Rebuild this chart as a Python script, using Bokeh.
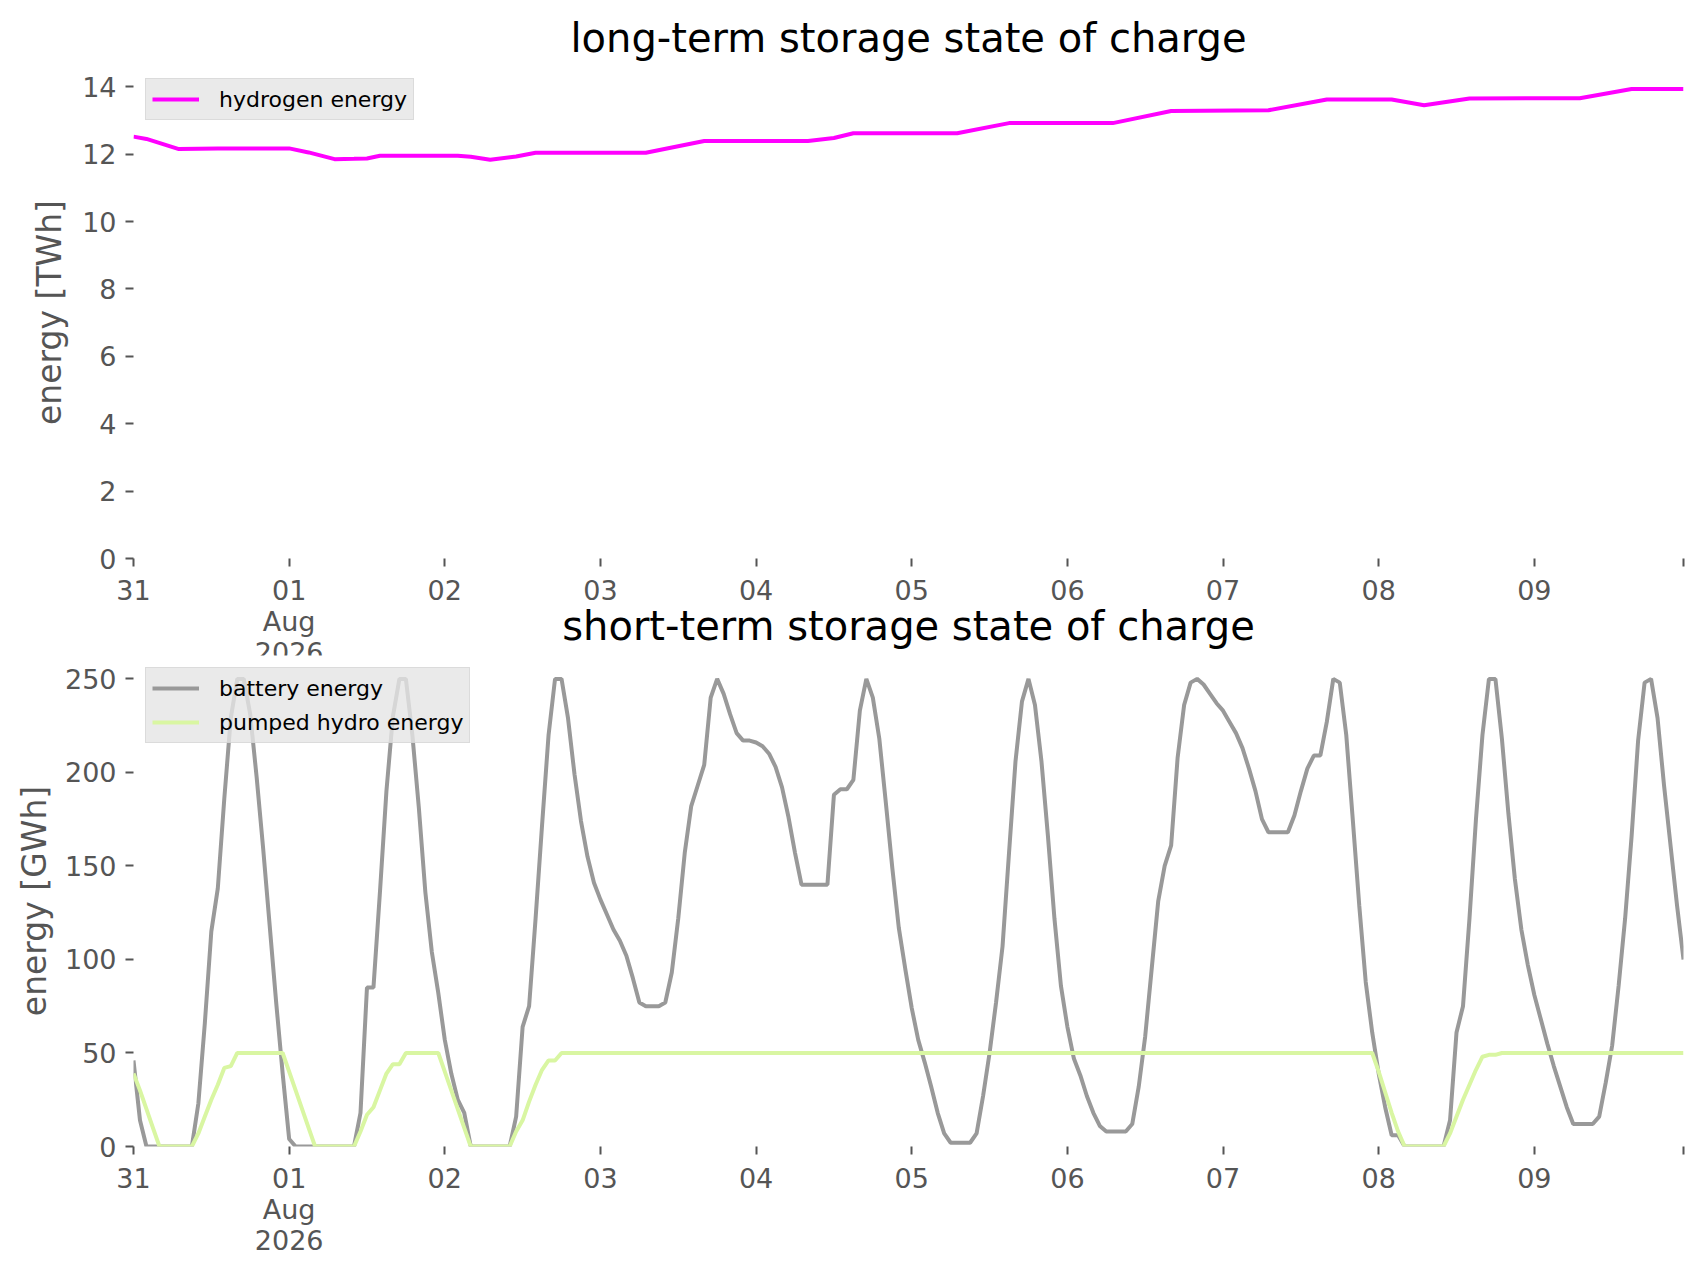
from bokeh.plotting import figure
from bokeh.models import Range1d, FixedTicker, Legend, LegendItem
from bokeh.layouts import column
from bokeh.embed import file_html
from bokeh.resources import INLINE

# ---------------- data ----------------
hours = list(range(240))  # hourly, 31 Jul 2026 00:00 .. 09 Aug 2026 23:00

day_ticks = [0, 24, 48, 72, 96, 120, 144, 168, 192, 216, 239]
day_labels = ["31", "01\nAug\n2026", "02", "03", "04", "05", "06", "07", "08", "09", ""]

hydrogen_hours = [0, 2, 7, 13, 24, 27, 31, 34, 36, 38, 50, 52, 55, 59, 62, 79,
                  88, 104, 108, 111, 127, 135, 151, 160, 175, 184, 194, 199, 206, 223, 231, 239]
hydrogen_twh = [12.52, 12.45, 12.15, 12.17, 12.17, 12.05, 11.85, 11.86, 11.87, 11.95, 11.95, 11.92,
                11.83, 11.93, 12.04, 12.04, 12.39, 12.39, 12.48, 12.62, 12.62, 12.92, 12.92, 13.28,
                13.30, 13.62, 13.62, 13.45, 13.65, 13.66, 13.93, 13.93]

battery_gwh = [
    46, 14, 0, 0, 0, 0, 0, 0, 0, 0,
    23, 66, 115, 138, 186, 229, 250, 250, 231, 197,
    159, 118, 77, 39, 4, 0, 0, 0, 0, 0,
    0, 0, 0, 0, 0, 18, 85, 85, 136, 190,
    230, 250, 250, 220, 181, 136, 104, 82, 57, 39,
    25, 18, 0, 0, 0, 0, 0, 0, 0, 16,
    64, 75, 122, 172, 220, 250, 250, 229, 199, 174,
    155, 141, 132, 124, 116, 110, 102, 90, 77, 75,
    75, 75, 77, 93, 122, 157, 182, 193, 204, 240,
    250, 242, 231, 221, 217, 217, 216, 214, 210, 203,
    192, 176, 157, 140, 140, 140, 140, 140, 188, 191,
    191, 196, 233, 250, 240, 218, 184, 149, 117, 95,
    74, 57, 45, 32, 18, 7, 2, 2, 2, 2,
    7, 27, 50, 77, 107, 157, 206, 238, 250, 236,
    206, 166, 122, 86, 64, 47, 38, 27, 18, 11,
    8, 8, 8, 8, 12, 32, 59, 95, 131, 150,
    161, 208, 236, 248, 250, 247, 242, 237, 233, 227,
    221, 213, 202, 190, 175, 168, 168, 168, 168, 177,
    190, 202, 209, 209, 227, 250, 248, 220, 175, 129,
    88, 61, 39, 21, 6, 6, 0, 0, 0, 0,
    0, 0, 0, 14, 61, 75, 122, 175, 220, 250,
    250, 218, 178, 143, 116, 97, 81, 68, 55, 43,
    32, 21, 12, 12, 12, 12, 16, 34, 54, 86,
    122, 166, 217, 248, 250, 229, 193, 161, 129, 100,
]

pumped_hydro_gwh = [
    39, 30, 20, 10, 0, 0, 0, 0, 0, 0,
    7, 16, 25, 33, 42, 43, 50, 50, 50, 50,
    50, 50, 50, 50, 40, 30, 20, 10, 0, 0,
    0, 0, 0, 0, 0, 8, 17, 21, 30, 39,
    44, 44, 50, 50, 50, 50, 50, 50, 40, 30,
    20, 10, 0, 0, 0, 0, 0, 0, 0, 8,
    14, 24, 33, 41, 46, 46, 50, 50, 50, 50,
    50, 50, 50, 50, 50, 50, 50, 50, 50, 50,
    50, 50, 50, 50, 50, 50, 50, 50, 50, 50,
    50, 50, 50, 50, 50, 50, 50, 50, 50, 50,
    50, 50, 50, 50, 50, 50, 50, 50, 50, 50,
    50, 50, 50, 50, 50, 50, 50, 50, 50, 50,
    50, 50, 50, 50, 50, 50, 50, 50, 50, 50,
    50, 50, 50, 50, 50, 50, 50, 50, 50, 50,
    50, 50, 50, 50, 50, 50, 50, 50, 50, 50,
    50, 50, 50, 50, 50, 50, 50, 50, 50, 50,
    50, 50, 50, 50, 50, 50, 50, 50, 50, 50,
    50, 50, 50, 50, 50, 50, 50, 50, 50, 50,
    50, 50, 50, 50, 50, 50, 50, 50, 50, 50,
    50, 50, 40, 29, 18, 8, 0, 0, 0, 0,
    0, 0, 0, 7, 16, 25, 33, 41, 48, 49,
    49, 50, 50, 50, 50, 50, 50, 50, 50, 50,
    50, 50, 50, 50, 50, 50, 50, 50, 50, 50,
    50, 50, 50, 50, 50, 50, 50, 50, 50, 50,
]

FONT = "DejaVu Sans"
GREY = "#555555"


def make_fig(title, ylabel, y_max, y_ticks, height, border_top, border_bottom,
             title_standoff, label_standoff, styles=None):
    p = figure(width=1690, height=height, output_backend="svg", toolbar_location=None,
               x_range=Range1d(0, 239), y_range=Range1d(0, y_max),
               min_border_left=133, min_border_right=7,
               min_border_top=border_top, min_border_bottom=border_bottom,
               title=title, styles=styles or {})
    p.outline_line_color = None
    p.background_fill_color = "white"
    p.grid.grid_line_color = None
    p.title.text_font = FONT
    p.title.text_font_size = "40px"
    p.title.text_font_style = "normal"
    p.title.text_color = "black"
    p.title.align = "center"
    p.title.standoff = title_standoff
    for ax in p.axis:
        ax.axis_line_color = None
        ax.major_tick_line_color = GREY
        ax.major_tick_line_width = 2
        ax.major_tick_out = 8
        ax.major_tick_in = 0
        ax.minor_tick_line_color = None
        ax.major_label_text_font = FONT
        ax.major_label_text_font_size = "27px"
        ax.major_label_text_color = GREY
        ax.major_label_text_line_height = 1.0
        ax.axis_label_text_font = FONT
        ax.axis_label_text_font_size = "33px"
        ax.axis_label_text_font_style = "normal"
        ax.axis_label_text_color = GREY
    p.xaxis.ticker = FixedTicker(ticks=day_ticks)
    p.xaxis.major_label_overrides = dict(zip(day_ticks, day_labels))
    p.xaxis.major_label_standoff = 8
    p.yaxis.ticker = FixedTicker(ticks=y_ticks)
    p.yaxis.major_label_standoff = 9
    p.yaxis.axis_label = ylabel
    p.yaxis.axis_label_standoff = label_standoff
    return p


def add_legend(p, items):
    leg = Legend(items=items, location="top_left")
    leg.margin = 12
    leg.padding = 6
    leg.spacing = 6
    leg.glyph_width = 47
    leg.glyph_height = 28
    leg.label_height = 28
    leg.label_standoff = 20
    leg.label_text_font = FONT
    leg.label_text_font_size = "22px"
    leg.label_text_color = "black"
    leg.background_fill_color = "#e5e5e5"
    leg.background_fill_alpha = 0.8
    leg.border_line_color = "#cccccc"
    leg.border_line_width = 1
    p.add_layout(leg)


# ---- long-term ----
p1 = make_fig("long-term storage state of charge", "energy [TWh]", 14.6,
              [0, 2, 4, 6, 8, 10, 12, 14], height=683, border_top=66, border_bottom=125,
              title_standoff=11, label_standoff=10)
r_h2 = p1.line(hydrogen_hours, hydrogen_twh, line_color="#ff00ff", line_width=4)
add_legend(p1, [LegendItem(label="hydrogen energy", renderers=[r_h2])])

# ---- short-term ----
p2 = make_fig("short-term storage state of charge", "energy [GWh]", 262.5,
              [0, 50, 100, 150, 200, 250], height=669, border_top=66, border_bottom=112,
              title_standoff=13, label_standoff=8, styles={"margin-top": "-94px"})
p2.border_fill_alpha = 0
r_bat = p2.line(hours, battery_gwh, line_color="#999999", line_width=4)
r_phs = p2.line(hours, pumped_hydro_gwh, line_color="#d9f6a2", line_width=4)
add_legend(p2, [LegendItem(label="battery energy", renderers=[r_bat]),
                LegendItem(label="pumped hydro energy", renderers=[r_phs])])

layout = column(p1, p2, spacing=0)
open("out.html", "w").write(file_html(layout, INLINE))
